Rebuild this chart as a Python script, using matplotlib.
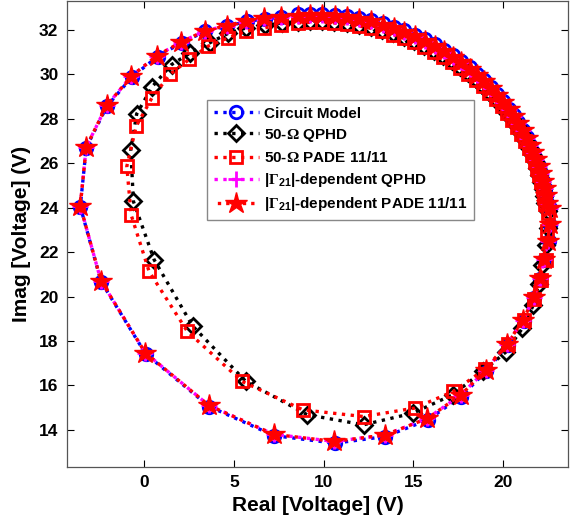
import matplotlib
matplotlib.use('Agg')
import matplotlib.pyplot as plt

plt.rcParams['font.family'] = ['Liberation Sans', 'DejaVu Sans']
plt.rcParams['font.weight'] = 'bold'
plt.rcParams['mathtext.fontset'] = 'custom'
plt.rcParams['mathtext.rm'] = 'Liberation Serif'
plt.rcParams['mathtext.bf'] = 'Liberation Sans:bold'
plt.rcParams['mathtext.it'] = 'Liberation Serif:italic'

# Load-line trajectories (real / imag part of voltage), one point per sweep step
circuit_x = [8.56, 9.25, 9.93, 10.61, 11.29, 11.97, 12.64, 13.30, 13.90, 14.50,
             15.08, 15.65, 16.21, 16.71, 17.20, 17.67, 18.12, 18.56, 18.94, 19.31,
             19.66, 20.00, 20.31, 20.59, 20.84, 21.08, 21.30, 21.51, 21.68, 21.84,
             21.98, 22.10, 22.21, 22.31, 22.39, 22.45, 22.60, 22.60, 22.52, 22.28,
             22.06, 21.72, 21.13, 20.24, 19.04, 17.65, 15.80, 13.44, 10.63, 7.24,
             3.63, 0.09, -2.39, -3.55, -3.22, -2.07, -0.68, 0.75, 2.10, 3.40,
             4.62, 5.72, 6.72, 7.65]
circuit_y = [32.70, 32.72, 32.72, 32.69, 32.63, 32.55, 32.44, 32.30, 32.15, 31.98,
             31.79, 31.58, 31.35, 31.11, 30.86, 30.60, 30.32, 30.02, 29.73, 29.43,
             29.11, 28.79, 28.46, 28.15, 27.84, 27.50, 27.17, 26.83, 26.52, 26.20,
             25.87, 25.55, 25.22, 24.89, 24.56, 24.23, 23.99, 23.23, 22.48, 21.66,
             20.80, 19.93, 18.92, 17.83, 16.63, 15.50, 14.45, 13.70, 13.40, 13.74,
             15.05, 17.42, 20.67, 24.05, 26.70, 28.56, 29.88, 30.80, 31.43, 31.93,
             32.16, 32.38, 32.50, 32.57]

# |Gamma21|-dependent models, nearly on top of the circuit model
gamma_x = [8.56, 9.25, 9.93, 10.61, 11.29, 11.97, 12.64, 13.30, 13.90, 14.50,
           15.08, 15.65, 16.21, 16.71, 17.20, 17.67, 18.12, 18.56, 18.94, 19.31,
           19.66, 20.00, 20.31, 20.59, 20.84, 21.08, 21.30, 21.51, 21.68, 21.84,
           21.98, 22.10, 22.21, 22.31, 22.39, 22.45, 22.58, 22.58, 22.50, 22.27,
           22.05, 21.70, 21.12, 20.22, 19.02, 17.62, 15.78, 13.42, 10.60, 7.22,
           3.61, 0.07, -2.40, -3.55, -3.22, -2.08, -0.70, 0.72, 2.08, 3.38,
           4.60, 5.70, 6.70, 7.63]
gamma_y = [32.64, 32.66, 32.66, 32.63, 32.57, 32.49, 32.38, 32.24, 32.09, 31.92,
           31.73, 31.52, 31.29, 31.05, 30.80, 30.54, 30.26, 29.97, 29.68, 29.38,
           29.07, 28.75, 28.42, 28.11, 27.80, 27.48, 27.15, 26.81, 26.50, 26.18,
           25.86, 25.54, 25.21, 24.88, 24.55, 24.22, 24.00, 23.25, 22.50, 21.69,
           20.84, 19.97, 18.96, 17.88, 16.68, 15.56, 14.52, 13.77, 13.48, 13.80,
           15.10, 17.47, 20.71, 24.08, 26.73, 28.60, 29.92, 30.84, 31.46, 31.96,
           32.19, 32.41, 32.53, 32.60]

# shared upper arc of the 50-ohm models
arc50_x = [8.57, 9.25, 9.93, 10.60, 11.28, 11.95, 12.62, 13.27, 13.87, 14.46,
           15.04, 15.60, 16.16, 16.65, 17.14, 17.61, 18.05, 18.49, 18.87, 19.23,
           19.58, 19.92, 20.23, 20.51, 20.75, 20.99, 21.21, 21.42, 21.59, 21.75,
           21.88, 22.00, 22.11, 22.21, 22.29, 22.35]
qphd_arc_y = [32.37, 32.39, 32.39, 32.36, 32.30, 32.23, 32.12, 31.98, 31.84, 31.67,
              31.49, 31.29, 31.06, 30.83, 30.59, 30.34, 30.07, 29.77, 29.49, 29.20,
              28.90, 28.59, 28.27, 27.97, 27.67, 27.35, 27.03, 26.70, 26.40, 26.09,
              25.78, 25.47, 25.15, 24.83, 24.51, 24.19]
pade_arc_y = [32.32, 32.34, 32.34, 32.31, 32.25, 32.18, 32.07, 31.93, 31.79, 31.62,
              31.44, 31.24, 31.02, 30.79, 30.55, 30.30, 30.03, 29.74, 29.46, 29.17,
              28.87, 28.57, 28.25, 27.95, 27.65, 27.33, 27.01, 26.68, 26.38, 26.07,
              25.76, 25.45, 25.14, 24.82, 24.50, 24.18]

qphd_rest_x = [22.48, 22.48, 22.40, 22.18, 21.98, 21.68, 21.07, 20.14, 18.85, 17.18,
               14.96, 12.22, 9.09, 5.67, 2.70, 0.56, -0.59, -0.74, -0.41, 0.46,
               1.53, 2.55, 3.66, 4.67, 5.69, 6.76, 7.68]
qphd_rest_y = [23.85, 23.10, 22.30, 21.40, 20.55, 19.63, 18.58, 17.50, 16.63, 15.58,
               14.75, 14.23, 14.68, 16.18, 18.68, 21.66, 24.28, 26.60, 28.22, 29.45,
               30.44, 30.95, 31.42, 31.84, 32.09, 32.24, 32.32]

pade_rest_x = [22.50, 22.46, 22.37, 22.09, 21.72, 21.13, 20.24, 18.98, 17.22, 15.06,
               12.22, 8.85, 5.46, 2.41, 0.28, -0.72, -0.96, -0.44, 0.43, 1.44,
               2.51, 3.57, 4.67, 5.65, 6.70, 7.63]
pade_rest_y = [23.75, 22.95, 21.66, 20.76, 19.90, 18.95, 17.87, 16.73, 15.73, 14.98,
               14.60, 14.90, 16.18, 18.43, 21.13, 23.68, 25.86, 27.66, 28.93, 30.00,
               30.67, 31.27, 31.64, 31.94, 32.09, 32.24]

qphd_x = arc50_x + qphd_rest_x
qphd_y = qphd_arc_y + qphd_rest_y
pade_x = arc50_x + pade_rest_x
pade_y = pade_arc_y + pade_rest_y

fig = plt.figure(figsize=(5.76, 5.16), dpi=100)
ax = fig.add_axes([0.116, 0.095, 0.870, 0.903])

lw = 2.4
mew = 2.0
ax.plot(circuit_x, circuit_y, ':', color='#0000ff', lw=lw, marker='o', ms=9,
        mfc='none', mew=mew, label='Circuit Model')
ax.plot(qphd_x, qphd_y, ':', color='black', lw=lw, marker='D', ms=8,
        mfc='none', mew=mew, label=r'50-$\Omega$ QPHD')
ax.plot(pade_x, pade_y, ':', color='#ff0000', lw=lw, marker='s', ms=8.5,
        mfc='none', mew=mew, label=r'50-$\Omega$ PADE 11/11')
ax.plot(gamma_x, gamma_y, ':', color='#ff00ff', lw=lw, marker='+', ms=11,
        mew=mew, label=r'|$\Gamma_{\mathbf{21}}$|-dependent QPHD')
ax.plot(gamma_x, gamma_y, color='#ff0000', ls=(1.5, (1, 1.5)), lw=lw, marker='*',
        ms=16, mfc='#ff0000', mec='#ff0000', mew=1.0,
        label=r'|$\Gamma_{\mathbf{21}}$|-dependent PADE 11/11')

ax.set_xlim(-4.3, 23.6)
ax.set_ylim(12.33, 33.3)
ax.set_xticks([0, 5, 10, 15, 20])
ax.set_yticks([14, 16, 18, 20, 22, 24, 26, 28, 30, 32])
ax.tick_params(direction='in', top=True, right=True, labelsize=12.5, length=5,
               width=0.8, pad=6)
for sp in ax.spines.values():
    sp.set_color('#555555')
    sp.set_linewidth(0.9)

ax.set_xlabel('Real [Voltage] (V)', fontsize=15, fontweight='bold', labelpad=4)
ax.set_ylabel('Imag [Voltage] (V)', fontsize=15, fontweight='bold', labelpad=6)

leg = ax.legend(loc='upper left', bbox_to_anchor=(0.279, 0.788), borderaxespad=0,
                fontsize=11, handlelength=3.0, handletextpad=0.3,
                borderpad=0.45, labelspacing=0.4, fancybox=False, framealpha=1)
leg.get_frame().set_edgecolor('#888888')
leg.get_frame().set_linewidth(1.0)

fig.savefig('out.png', dpi=100)
